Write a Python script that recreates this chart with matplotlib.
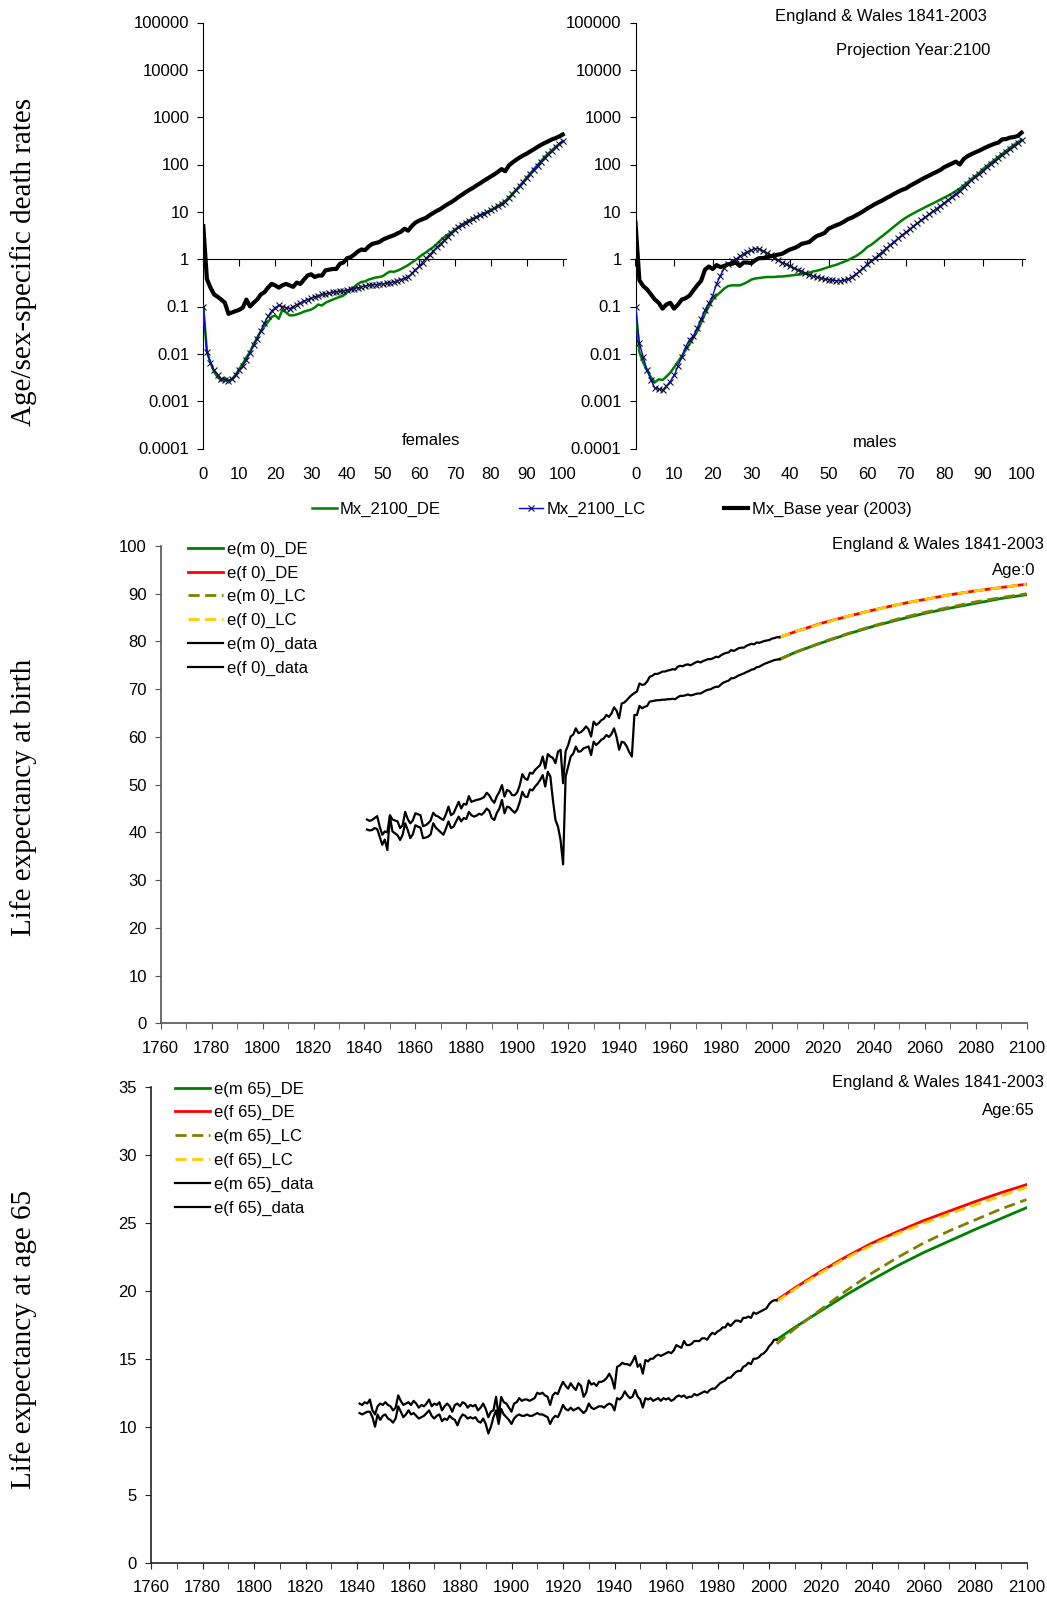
'''
    Mortality projections, England & Wales: age-specific rates and
    life expectancy at birth / at 65
'''
import matplotlib
matplotlib.use('Agg')
from matplotlib import pyplot as plt
from matplotlib.ticker import NullLocator, MultipleLocator
import numpy as np

plt.rcParams['font.family'] = ['Liberation Sans', 'DejaVu Sans']
plt.rcParams['font.size'] = 12

W, H = 1047, 1597

GREEN  = '#008000'
RED    = '#ff0000'
OLIVE  = '#808000'
GOLD   = '#ffcc00'
BLUE   = '#0000ff'

# ---------------------------------------------------------------
# Age-specific death rates, ages 0..100
# ---------------------------------------------------------------
ages = list(range(101))

rate_ticks  = [1e-4, 1e-3, 1e-2, 1e-1, 1, 10, 100, 1000, 10000, 100000]
rate_labels = ['0.0001', '0.001', '0.01', '0.1', '1', '10', '100',
               '1000', '10000', '100000']

f_base = [5.0, 0.38, 0.25, 0.18, 0.16, 0.14, 0.12, 0.07, 0.075, 0.08,
          0.085, 0.095, 0.14, 0.10, 0.12, 0.14, 0.18, 0.20, 0.25, 0.30,
          0.28, 0.25, 0.28, 0.30, 0.28, 0.26, 0.32, 0.30, 0.37, 0.45,
          0.48, 0.42, 0.45, 0.45, 0.58, 0.60, 0.62, 0.62, 0.80, 0.85,
          1.05, 1.1, 1.25, 1.45, 1.6, 1.55, 1.85, 2.1, 2.2, 2.3,
          2.6, 2.8, 3.0, 3.2, 3.5, 3.8, 4.4, 4.0, 5.0, 5.9,
          6.5, 7.0, 7.5, 8.5, 9.5, 10.5, 11.5, 13.0, 14.5, 16.0,
          18.0, 20.5, 23.0, 26.0, 29.0, 32.0, 36.0, 40.0, 45.0, 50.0,
          56, 62, 70, 80, 72, 95, 110, 125, 140, 155,
          170, 190, 210, 235, 260, 285, 310, 340, 360, 390, 430]

f_de = [0.1, 0.011, 0.0065, 0.0042, 0.0032, 0.0027, 0.0031, 0.0027, 0.0029, 0.0036,
        0.0048, 0.0062, 0.0085, 0.011, 0.016, 0.022, 0.03, 0.038, 0.047, 0.06,
        0.065, 0.055, 0.085, 0.075, 0.065, 0.065, 0.068, 0.072, 0.078, 0.082,
        0.086, 0.095, 0.11, 0.105, 0.12, 0.13, 0.14, 0.15, 0.16, 0.17,
        0.2, 0.23, 0.26, 0.3, 0.33, 0.34, 0.37, 0.39, 0.41, 0.42,
        0.44, 0.5, 0.55, 0.54, 0.57, 0.62, 0.68, 0.75, 0.85, 0.95,
        1.1, 1.25, 1.4, 1.6, 1.8, 2.1, 2.5, 2.9, 3.3, 3.7,
        4.2, 4.8, 5.4, 6.0, 6.6, 7.2, 7.8, 8.5, 9.2, 10.0,
        11, 12, 13.5, 15, 17, 20, 24, 29, 35, 43,
        53, 65, 80, 97, 118, 145, 170, 200, 235, 270, 310]

f_lc = [0.1, 0.011, 0.0065, 0.0045, 0.0036, 0.003, 0.0028, 0.0027, 0.003, 0.0036,
        0.0045, 0.0056, 0.0075, 0.0105, 0.015, 0.021, 0.03, 0.045, 0.062, 0.08,
        0.095, 0.105, 0.1, 0.095, 0.09, 0.1, 0.11, 0.12, 0.13, 0.14,
        0.15, 0.16, 0.17, 0.18, 0.185, 0.19, 0.2, 0.205, 0.21, 0.215,
        0.22, 0.23, 0.24, 0.25, 0.26, 0.27, 0.28, 0.285, 0.29, 0.3,
        0.3, 0.31, 0.32, 0.33, 0.35, 0.37, 0.4, 0.43, 0.5, 0.6,
        0.7, 0.85, 1.05, 1.25, 1.5, 1.8, 2.1, 2.5, 3.0, 3.5,
        4.1, 4.7, 5.3, 5.9, 6.5, 7.1, 7.7, 8.4, 9.1, 9.9,
        10.8, 11.8, 13, 14.5, 16.5, 19.5, 23.5, 28.5, 34.5, 42,
        52, 64, 78, 95, 115, 140, 165, 195, 230, 270, 320]

m_base = [5.9, 0.36, 0.27, 0.23, 0.18, 0.14, 0.12, 0.09, 0.11, 0.12,
          0.09, 0.11, 0.14, 0.15, 0.17, 0.22, 0.28, 0.35, 0.60, 0.70,
          0.62, 0.75, 0.68, 0.72, 0.78, 0.80, 0.85, 0.72, 0.85, 0.85,
          0.82, 0.95, 1.05, 1.05, 1.1, 1.15, 1.2, 1.25, 1.3, 1.45,
          1.6, 1.7, 1.85, 2.1, 2.2, 2.3, 2.7, 3.1, 3.3, 3.6,
          4.4, 4.8, 5.2, 5.6, 6.2, 7.0, 7.5, 8.3, 9.2, 10.3,
          11.7, 13, 14.5, 16, 17.5, 19.5, 21.5, 24, 26.5, 29,
          31, 35, 39, 43, 48, 53, 58, 64, 70, 77,
          88, 96, 105, 115, 100, 130, 150, 165, 180, 195,
          215, 235, 255, 275, 290, 340, 345, 370, 380, 400, 470]

m_de = [0.1, 0.011, 0.0065, 0.0045, 0.0032, 0.0025, 0.0029, 0.0028, 0.0033, 0.004,
        0.0052, 0.0068, 0.009, 0.012, 0.016, 0.022, 0.03, 0.045, 0.07, 0.1,
        0.14, 0.17, 0.2, 0.24, 0.27, 0.28, 0.28, 0.28, 0.3, 0.33,
        0.37, 0.39, 0.4, 0.41, 0.42, 0.42, 0.42, 0.43, 0.43, 0.44,
        0.45, 0.46, 0.47, 0.48, 0.5, 0.52, 0.55, 0.57, 0.6, 0.64,
        0.68, 0.72, 0.76, 0.82, 0.88, 0.95, 1.05, 1.15, 1.3, 1.5,
        1.8, 2.0, 2.3, 2.7, 3.1, 3.6, 4.2, 4.9, 5.7, 6.6,
        7.5, 8.4, 9.3, 10.3, 11.3, 12.5, 13.7, 15, 16.5, 18.2,
        20, 22, 24.5, 27.5, 31, 36, 42, 49, 57, 66,
        80, 93, 108, 125, 145, 168, 195, 225, 260, 295, 335]

m_lc = [0.1, 0.017, 0.0085, 0.0045, 0.0028, 0.0019, 0.0018, 0.0017, 0.0021, 0.0026,
        0.0035, 0.0055, 0.0085, 0.014, 0.02, 0.024, 0.035, 0.055, 0.085, 0.12,
        0.17, 0.3, 0.45, 0.65, 0.8, 0.9, 1.0, 1.15, 1.3, 1.45,
        1.55, 1.68, 1.65, 1.5, 1.35, 1.2, 1.05, 0.95, 0.85, 0.78,
        0.72, 0.65, 0.6, 0.55, 0.5, 0.47, 0.44, 0.42, 0.4, 0.38,
        0.37, 0.36, 0.35, 0.35, 0.355, 0.38, 0.42, 0.48, 0.55, 0.65,
        0.78, 0.9, 1.05, 1.25, 1.45, 1.7, 2.0, 2.35, 2.75, 3.2,
        3.7, 4.3, 5.0, 5.8, 6.7, 7.7, 8.9, 10.2, 11.7, 13.5,
        15.5, 18, 21, 24, 28, 33, 39, 46, 54, 63,
        74, 87, 102, 118, 136, 157, 182, 210, 242, 280, 330]

# ---------------------------------------------------------------
# Life expectancy, observed 1841-2003 and projected 2003-2100
# ---------------------------------------------------------------
years_obs  = list(range(1841, 2004))
years_proj = [2003, 2010, 2020, 2030, 2040, 2050, 2060, 2070, 2080, 2090, 2100]

e0_f = [42.7, 42.4, 42.6, 43.0, 43.4, 41.2, 39.5, 40.2, 40.0, 43.6,
        42.7, 42.5, 42.3, 40.9, 41.5, 44.3, 42.8, 41.9, 42.5, 44.0,
        43.8, 43.6, 41.3, 41.5, 41.9, 42.5, 44.1, 43.5, 43.3, 42.9,
        42.6, 43.8, 45.4, 43.6, 44.0, 45.2, 46.4, 45.0, 46.0, 45.8,
        47.6, 46.4, 46.6, 46.8, 46.9, 47.1, 47.4, 48.3, 47.8, 46.8,
        46.2, 47.6, 48.5, 49.9, 47.5, 48.9, 48.6, 47.8, 47.8, 48.4,
        49.9, 52.2, 51.3, 51.0, 52.5, 52.3, 53.1, 53.6, 54.1, 55.9,
        53.4, 56.4, 55.9, 55.6, 54.5, 56.9, 57.3, 50.3, 57.0, 58.3,
        60.1, 60.5, 61.8, 60.8, 61.0, 61.5, 62.2, 61.6, 60.1, 63.2,
        62.5, 62.9, 63.5, 63.8, 64.6, 64.2, 64.9, 66.2, 65.5, 63.9,
        67.0, 67.2, 67.7, 68.3, 68.8, 69.2, 69.5, 71.2, 70.9, 71.0,
        71.6, 72.6, 72.8, 73.2, 73.2, 73.4, 73.7, 73.7, 73.9, 74.0,
        74.2, 74.1, 74.7, 74.9, 74.8, 75.1, 75.2, 75.0, 75.3, 75.6,
        75.8, 75.6, 75.9, 76.1, 76.3, 76.3, 76.5, 76.8, 76.7, 77.1,
        77.4, 77.6, 77.7, 78.2, 78.0, 78.3, 78.6, 78.7, 78.7, 79.1,
        79.3, 79.5, 79.4, 79.8, 79.7, 79.9, 80.1, 80.2, 80.3, 80.6,
        80.7, 80.9, 80.9]

e0_m = [40.6, 40.4, 40.5, 40.9, 40.7, 39.1, 37.4, 38.5, 36.3, 43.3,
        40.2, 39.8, 39.4, 38.4, 39.5, 41.9, 40.5, 38.8, 39.6, 41.5,
        41.2, 41.0, 38.8, 38.9, 39.1, 39.6, 41.9, 41.0, 40.5, 40.0,
        39.5, 40.8, 42.3, 40.9, 41.2, 42.3, 43.3, 42.3, 43.0, 42.8,
        44.3, 43.6, 43.3, 43.5, 43.9, 43.7, 44.2, 45.0, 44.5, 43.0,
        42.6, 44.1, 45.0, 46.8, 44.0, 45.4, 45.2, 44.6, 44.1, 44.8,
        46.4, 48.5, 47.5, 47.4, 49.0, 48.8, 49.6, 50.2, 51.0, 52.0,
        49.6, 52.7, 51.7, 46.8, 42.6, 41.2, 38.4, 33.3, 51.7, 53.8,
        55.9, 56.5, 58.0, 56.9, 57.0, 57.6, 57.8, 58.0, 56.2, 59.0,
        58.3, 58.8, 59.4, 59.7, 60.4, 60.0, 60.6, 61.8, 60.0, 57.3,
        59.0, 58.8, 58.0, 56.8, 55.9, 64.6, 64.6, 66.5, 66.0, 66.3,
        66.5, 67.4, 67.5, 67.6, 67.7, 67.7, 67.8, 67.8, 67.9, 67.9,
        68.0, 67.9, 68.3, 68.6, 68.6, 68.7, 68.9, 68.7, 68.8, 69.0,
        69.1, 69.1, 69.4, 69.7, 69.9, 70.0, 70.3, 70.5, 70.5, 71.0,
        71.4, 71.6, 71.8, 72.3, 72.3, 72.6, 72.9, 73.1, 73.3, 73.6,
        73.8, 74.1, 74.2, 74.6, 74.7, 75.0, 75.3, 75.5, 75.7, 75.9,
        76.1, 76.2, 76.3]

e0_f_de = [80.9, 82.2, 83.9, 85.3, 86.6, 87.8, 88.8, 89.8, 90.6, 91.3, 92.0]
e0_f_lc = [80.9, 82.2, 83.8, 85.3, 86.6, 87.8, 88.8, 89.8, 90.6, 91.3, 92.0]
e0_m_de = [76.3, 77.9, 79.8, 81.6, 83.2, 84.6, 85.9, 87.0, 88.0, 89.0, 89.8]
e0_m_lc = [76.2, 77.9, 79.9, 81.7, 83.3, 84.8, 86.1, 87.2, 88.3, 89.2, 90.0]

e65_f = [11.7, 11.6, 11.8, 11.7, 12.0, 11.2, 10.9, 11.5, 11.7, 11.6,
         11.8, 11.6, 11.5, 11.2, 11.4, 12.3, 11.9, 11.6, 11.7, 11.8,
         11.6, 11.9, 11.7, 11.4, 11.6, 11.5, 11.7, 12.0, 11.5, 11.7,
         11.6, 11.8, 11.2, 11.5, 11.7, 11.5, 11.1, 11.6, 11.7, 11.5,
         11.8, 11.7, 11.4, 11.6, 11.5, 11.6, 11.2, 11.4, 11.7, 11.3,
         10.7, 11.1, 11.2, 12.2, 10.8, 12.2, 11.8, 11.7, 11.4, 11.1,
         11.7, 11.8, 12.1, 11.9, 12.0, 12.0, 11.9, 12.0, 12.1, 12.5,
         12.4, 12.5, 12.3, 12.2, 11.6, 12.3, 12.5, 12.4, 12.9, 13.3,
         13.0, 12.8, 13.2, 12.9, 12.7, 13.2, 13.0, 12.2, 12.5, 13.4,
         13.1, 13.2, 13.0, 13.3, 13.3, 13.4, 13.6, 13.9, 13.5, 12.8,
         14.4, 14.5, 14.7, 14.6, 14.6, 14.5, 14.8, 15.2, 14.4, 14.6,
         13.9, 14.9, 14.8, 15.0, 15.0, 15.2, 15.3, 15.2, 15.3, 15.4,
         15.5, 15.4, 15.6, 16.0, 15.9, 15.8, 16.3, 16.0, 16.0, 16.1,
         16.3, 16.3, 16.3, 16.5, 16.5, 16.4, 16.7, 16.9, 16.8, 17.0,
         17.1, 17.3, 17.3, 17.6, 17.4, 17.6, 17.8, 17.8, 17.7, 18.0,
         18.0, 18.1, 18.0, 18.4, 18.3, 18.4, 18.5, 18.6, 18.7, 19.0,
         19.2, 19.3, 19.3]

e65_m = [11.0, 10.9, 11.0, 11.1, 11.1, 10.7, 10.0, 10.9, 10.5, 10.8,
         10.9, 10.6, 10.5, 10.3, 10.6, 11.5, 11.1, 10.7, 10.9, 11.2,
         10.9, 11.0, 10.8, 10.6, 10.7, 10.8, 11.0, 11.2, 10.8, 10.6,
         10.8, 10.9, 10.4, 10.6, 10.5, 10.8, 10.6, 10.5, 10.1, 10.6,
         10.9, 10.8, 10.6, 10.7, 10.6, 10.7, 10.4, 10.3, 10.6, 10.2,
         9.5, 10.0, 10.7, 11.2, 10.2, 11.3, 10.9, 10.7, 10.5, 10.2,
         10.6, 10.8, 10.9, 10.8, 10.8, 10.9, 10.8, 10.8, 10.9, 11.0,
         10.9, 10.9, 10.8, 10.7, 10.2, 10.6, 10.8, 10.7, 11.1, 11.6,
         11.3, 11.2, 11.4, 11.2, 11.3, 11.4, 11.2, 11.0, 11.2, 11.7,
         11.4, 11.3, 11.4, 11.5, 11.5, 11.4, 11.6, 11.7, 11.6, 11.2,
         12.1, 12.0, 12.2, 12.6, 12.3, 12.1, 12.2, 12.7, 12.2, 12.0,
         11.4, 12.1, 12.0, 12.1, 11.9, 12.0, 12.1, 11.9, 12.1, 12.0,
         12.1, 11.9, 12.0, 12.2, 12.3, 12.2, 12.3, 12.1, 12.2, 12.2,
         12.4, 12.3, 12.4, 12.5, 12.6, 12.5, 12.7, 12.8, 12.8, 13.0,
         13.2, 13.3, 13.4, 13.6, 13.6, 13.8, 14.0, 14.1, 14.1, 14.4,
         14.5, 14.7, 14.6, 15.0, 15.0, 15.1, 15.3, 15.4, 15.6, 15.9,
         16.1, 16.4, 16.4]

e65_f_de = [19.3, 20.2, 21.4, 22.5, 23.5, 24.35, 25.15, 25.85, 26.55, 27.2, 27.8]
e65_f_lc = [19.2, 20.1, 21.3, 22.4, 23.35, 24.2, 24.95, 25.65, 26.3, 26.95, 27.6]
e65_m_de = [16.4, 17.3, 18.5, 19.7, 20.8, 21.85, 22.8, 23.65, 24.5, 25.3, 26.1]
e65_m_lc = [16.1, 17.2, 18.6, 20.0, 21.3, 22.45, 23.5, 24.4, 25.2, 26.0, 26.7]


def px_axes(fig, left, top, right, bottom):
    ''' add an axes given its pixel box (origin top-left) '''
    return fig.add_axes([left/W, 1 - bottom/H, (right - left)/W, (bottom - top)/H])


def rate_panel(fig, box, base, de, lc, label, label_xy):
    ax = px_axes(fig, *box)
    l_de, = ax.plot(ages, de, c=GREEN, lw=1.8, zorder=3)
    l_lc, = ax.plot(ages, lc, c=BLUE, lw=1.0, marker='x', ms=4.5, mew=0.8,
                    mec='#101030', zorder=4)
    l_base, = ax.plot(ages, base, c='k', lw=3.0, zorder=5,
                      solid_joinstyle='round')

    ax.set_yscale('log')
    ax.set_ylim(1e-4, 1e5)
    ax.set_xlim(0, 101)
    ax.set_yticks(rate_ticks, rate_labels)
    ax.yaxis.set_minor_locator(NullLocator())
    ax.set_xticks(np.arange(0, 101, 10))
    ax.tick_params(axis='x', length=0, pad=13)
    ax.tick_params(axis='y', direction='out', length=4, pad=6)
    for s in ['top', 'right', 'bottom']:
        ax.spines[s].set_visible(False)

    # x axis crosses at 1
    sec = ax.secondary_xaxis(4/9)
    sec.set_xticks(np.arange(0, 101, 10))
    sec.tick_params(axis='x', direction='out', length=5, labelbottom=False)

    ax.text(label_xy[0], label_xy[1], label, ha='center', va='center')
    return l_de, l_lc, l_base


def le_panel(fig, box, ylim, ystep, obs_m, obs_f, de_m, de_f, lc_m, lc_f,
             tag, legend_anchor, spine_col):
    ax = px_axes(fig, *box)
    ax.plot(years_proj, de_m, c=GREEN, lw=2.0, label='e(m %s)_DE' % tag)
    ax.plot(years_proj, de_f, c=RED, lw=2.0, label='e(f %s)_DE' % tag)
    ax.plot(years_proj, lc_m, c=OLIVE, lw=2.0, dashes=(4, 2),
            label='e(m %s)_LC' % tag)
    ax.plot(years_proj, lc_f, c=GOLD, lw=2.0, dashes=(4, 2),
            label='e(f %s)_LC' % tag)
    ax.plot(years_obs, obs_m, c='k', lw=1.6, label='e(m %s)_data' % tag)
    ax.plot(years_obs, obs_f, c='k', lw=1.6, label='e(f %s)_data' % tag)

    ax.set_xlim(1760, 2100)
    ax.set_ylim(*ylim)
    ax.xaxis.set_major_locator(MultipleLocator(20))
    ax.xaxis.set_minor_locator(MultipleLocator(10))
    ax.yaxis.set_major_locator(MultipleLocator(ystep))
    ax.tick_params(axis='x', which='both', direction='out', length=4,
                   pad=8.5, color=spine_col)
    ax.tick_params(axis='y', direction='out', length=4, pad=6,
                   color=spine_col)
    for s in ['top', 'right']:
        ax.spines[s].set_visible(False)
    for s in ['left', 'bottom']:
        ax.spines[s].set_color(spine_col)
        ax.spines[s].set_linewidth(1.2)

    ax.legend(loc='upper left', bbox_to_anchor=legend_anchor, frameon=False,
              handlelength=2.1, handletextpad=0.25, labelspacing=0.52,
              borderaxespad=0, borderpad=0, fontsize=12)
    return ax


def main():
    fig = plt.figure(figsize=(W/100, H/100), dpi=100)

    # top: age-specific death rates
    h = rate_panel(fig, (203.3, 22.5, 566.3, 448.5), f_base, f_de, f_lc,
                   'females', (63.4, 1.45e-4))
    rate_panel(fig, (635.5, 22.5, 1025.4, 448.5), m_base, m_de, m_lc,
               'males', (62, 1.35e-4))
    fig.legend(h, ['Mx_2100_DE', 'Mx_2100_LC', 'Mx_Base year (2003)'],
               loc='center', bbox_to_anchor=(612/W, 1 - 509/H), ncol=3,
               frameon=False, handlelength=1.45, handletextpad=0.2,
               columnspacing=4.7, fontsize=12)

    # middle: life expectancy at birth
    le_panel(fig, (160.7, 546.0, 1026.6, 1023.3), (0, 100), 10,
             e0_m, e0_f, e0_m_de, e0_f_de, e0_m_lc, e0_f_lc, '0',
             (0.0315, 1.009), '#555555')

    # bottom: life expectancy at 65
    le_panel(fig, (151.0, 1086.7, 1026.5, 1562.7), (0, 35), 5,
             e65_m, e65_f, e65_m_de, e65_f_de, e65_m_lc, e65_f_lc, '65',
             (0.0274, 1.011), '#222222')

    # corner notes
    notes = [(987, 16, 'England & Wales 1841-2003'),
             (990, 51, 'Projection Year:2100'),
             (1044, 544, 'England & Wales 1841-2003'),
             (1035, 571, 'Age:0'),
             (1044, 1083, 'England & Wales 1841-2003'),
             (1035, 1110, 'Age:65')]
    for x, y, s in notes:
        fig.text(x/W, 1 - y/H, s, ha='right', va='center', fontsize=12)

    # y labels
    serif = ['Liberation Serif', 'DejaVu Serif']
    for y, s in [(262, 'Age/sex-specific death rates'),
                 (797, 'Life expectancy at birth'),
                 (1339, 'Life expectancy at age 65')]:
        fig.text(24/W, 1 - y/H, s, rotation=90, ha='center', va='center',
                 fontsize=21, family=serif)

    fig.savefig('out.png', dpi=100)
    plt.close(fig)


if __name__ == '__main__': main()
